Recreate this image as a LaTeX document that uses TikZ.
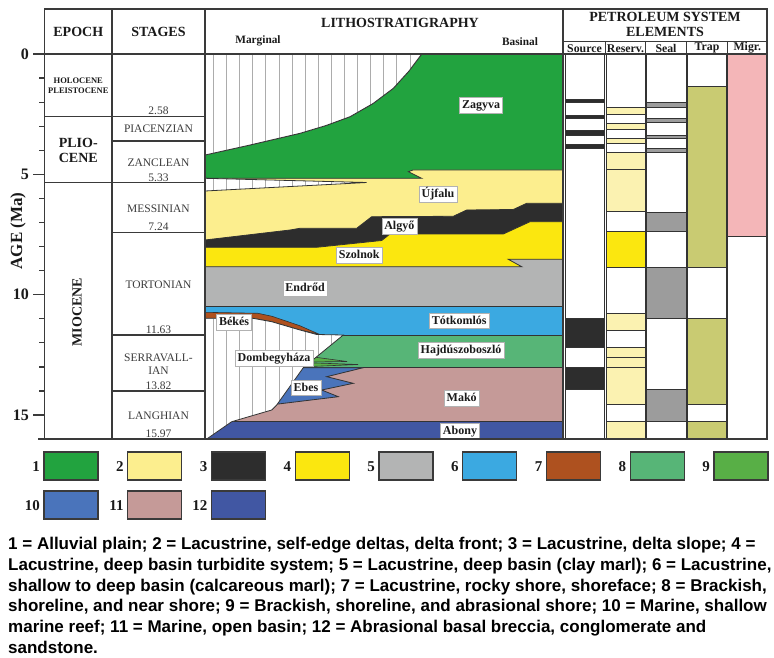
\documentclass[tikz,border=0pt]{standalone}
\usepackage{fontspec}
\setmainfont{Liberation Serif}
\newfontfamily\capfont{Liberation Sans}
\newcommand\fs[2]{\fontsize{#1}{#2}\selectfont}
\definecolor{frm}{HTML}{3A3A3A}
\definecolor{bndc}{HTML}{333333}
\definecolor{txt}{HTML}{1A1A1A}
\definecolor{stgc}{HTML}{3C3C3C}
\definecolor{c1}{HTML}{22A33F}
\definecolor{c2}{HTML}{FCEE8E}
\definecolor{c3}{HTML}{2D2D2D}
\definecolor{c4}{HTML}{FBE70F}
\definecolor{c5}{HTML}{B3B4B4}
\definecolor{c6}{HTML}{3BA9E1}
\definecolor{c7}{HTML}{AE511F}
\definecolor{c8}{HTML}{57B577}
\definecolor{c9}{HTML}{58AF46}
\definecolor{c10}{HTML}{4A74BB}
\definecolor{c11}{HTML}{C59A98}
\definecolor{c12}{HTML}{4157A3}
\definecolor{resP}{HTML}{FBF2B1}
\definecolor{sealG}{HTML}{9C9C9C}
\definecolor{trapO}{HTML}{C9CB72}
\definecolor{migP}{HTML}{F4B6B8}
\newcommand\hatchregion[1]{%
  \begin{scope}
    \clip #1;
    \fill[white] (200,50) rectangle (570,445);
    \foreach \hx in {213.3,226.4,...,560} {\draw[hatchln] (\hx,50) -- (\hx,445);}
  \end{scope}
  \draw[bnd] #1;}
\newcommand\cellcol[3]{%
  \foreach \ya/\yb/\cc in {#3} {\filldraw[cell,fill=\cc] (#1,\ya) rectangle (#2,\yb);}}
\begin{document}
\begin{tikzpicture}[x=1pt,y=-1pt,
  frameln/.style={draw=frm,line width=1.3pt},
  bnd/.style={draw=bndc,line width=0.8pt,line join=miter},
  hatchln/.style={draw=gray!65,line width=0.5pt},
  lbl/.style={draw=gray!60,line width=0.6pt,fill=white,inner xsep=2.5pt,inner ysep=1.8pt,text height=9.5pt,text depth=2.7pt,font=\fs{12}{12}\bfseries,text=txt},
  stg/.style={font=\fs{11.5}{13}},
  stg/.append style={text=stgc,inner sep=0pt,align=center},
  hdr/.style={font=\fs{14}{15}\bfseries,text=txt,inner sep=0pt,align=center},
  sub/.style={font=\fs{11.8}{12}\bfseries,text=txt,inner sep=0pt},
  cell/.style={draw=bndc,line width=0.7pt},
  lgbox/.style={draw=frm,line width=1.2pt},
  lgnum/.style={font=\fs{15}{15}\bfseries,anchor=east,inner sep=0pt,text=txt},
  capln/.style={font=\capfont\bfseries\fs{17}{21},anchor=base west,inner sep=0pt,text=black},
  agel/.style={font=\fs{16}{16}\bfseries,anchor=east,inner sep=0pt,text=txt}
]
\fill[white] (0,0) rectangle (774,658);
\useasboundingbox (0,0) rectangle (774,658);

% ---------- lithostratigraphy layers ----------
\filldraw[fill=c1,bnd] (421.7,54) -- (563,54) -- (563,439) -- (205,439) -- (205,155) -- (250,145) -- (300,133.3) -- (326,125.5) -- (350,116.7) -- (373,103.5) -- (393.3,88.3) -- (409,71) -- cycle;
\filldraw[fill=c2,bnd] (205,178.3) -- (421.7,178.3) -- (408.3,171.7) -- (413,170) -- (563,170) -- (563,439) -- (205,439) -- cycle;
\filldraw[fill=c3,bnd] (205,240) -- (290,230) -- (300,228.3) -- (356.7,228.3) -- (371.7,216.7) -- (453.3,216.3) -- (466.7,210) -- (513.3,209.5) -- (526.7,203.3) -- (563,203.3) -- (563,439) -- (205,439) -- cycle;
\filldraw[fill=c4,bnd] (205,247.3) -- (316.7,247.3) -- (381.7,240.5) -- (390,234) -- (503.3,234) -- (530,221.7) -- (563,221.7) -- (563,439) -- (205,439) -- cycle;
\filldraw[fill=c5,bnd] (205,266.7) -- (521.7,266.7) -- (508.3,259.3) -- (563,259.3) -- (563,439) -- (205,439) -- cycle;
\filldraw[fill=c6,bnd] (205,306.7) -- (563,306.7) -- (563,439) -- (205,439) -- cycle;
\filldraw[fill=c8,bnd] (205,335) -- (563,335) -- (563,439) -- (205,439) -- cycle;
\filldraw[fill=c11,bnd] (205,367.7) -- (563,367.7) -- (563,439) -- (205,439) -- cycle;
\filldraw[fill=c10,bnd] (295,367.7) -- (363.3,367.7) -- (326.7,376.7) -- (353.3,383.3) -- (321.7,390) -- (338.3,396.7) -- (270,405) -- cycle;
\filldraw[fill=c12,bnd] (205,421.7) -- (563,421.7) -- (563,439) -- (205,439) -- cycle;
\filldraw[fill=c9,bnd,line width=0.6pt] (310,356.5) -- (347,361.5) -- (310,362) -- cycle;
\filldraw[fill=c9,bnd,line width=0.6pt] (310,362.8) -- (358,364.5) -- (310,366.5) -- cycle;
\filldraw[fill=c7,bnd,line width=0.6pt] (205,312.3) -- (258,313.3) -- (272,316.3) -- (300,325.8) -- (320,334.6) -- (300,330) -- (271.7,321.7) -- (253,318.3) -- (205,318.3) -- cycle;

% ---------- marginal hatched areas ----------
\hatchregion{(205,54) -- (421.7,54) -- (409,71) -- (393.3,88.3) -- (373,103.5) -- (350,116.7) -- (326,125.5) -- (300,133.3) -- (250,145) -- (205,155) -- cycle}
\hatchregion{(205,178.3) -- (366.7,182.5) -- (205,191) -- cycle}
\hatchregion{(205,318.3) -- (253,318.3) -- (271.7,321.7) -- (300,330) -- (316.7,334.5) -- (343.3,335) -- (303.3,367.7) -- (276.7,405) -- (271.7,410) -- (231.7,421.7) -- (206.7,439) -- (205,439) -- cycle}

% ---------- formation labels ----------
\node[lbl] (zag) at (481,105) {Zagyva};
\node[lbl] (ujf) at (438,194.5) {Újfalu};
\node[lbl] (alg) at (399.3,226) {Algyő};
\node[lbl] (szo) at (359.3,255.5) {Szolnok};
\node[lbl] (end) at (305,288.3) {Endrőd};
\node[lbl] (tot) at (459.3,320.7) {Tótkomlós};
\node[lbl] (bek) at (234,322.5) {Békés};
\node[lbl] (haj) at (461,350) {Hajdúszoboszló};
\node[lbl] (dom) at (274,358.3) {Dombegyháza};
\node[lbl] (ebe) at (306,387.7) {Ebes};
\node[lbl] (mak) at (461.7,398.3) {Makó};
\node[lbl] (abo) at (460,430.7) {Abony};

% ---------- petroleum system columns ----------
\cellcol{565}{604.5}{54.5/99.3/white,99.3/102.7/c3,102.7/115/white,115/118.3/c3,118.3/130/white,130/135/c3,135/144/white,144/148.3/c3,148.3/318.3/white,318.3/347.7/c3,347.7/367.7/white,367.7/389/c3,389/439/white}
\cellcol{606}{645.5}{54.5/107.3/white,107.3/114/resP,114/123.3/white,123.3/129.3/resP,129.3/138.7/white,138.7/143/resP,143/152.7/white,152.7/169.5/resP,169.5/211.7/resP,211.7/231.7/white,231.7/267.7/c4,267.7/313.3/white,313.3/330/resP,330/347.7/white,347.7/357.3/resP,357.3/367.7/resP,367.7/404.3/resP,404.3/421.7/white,421.7/439/resP}
\cellcol{646.5}{686}{54.5/102.7/white,102.7/107/sealG,107/118.3/white,118.3/122.7/sealG,122.7/135/white,135/138.3/sealG,138.3/148.3/white,148.3/152.7/sealG,152.7/212.3/white,212.3/231.7/sealG,231.7/267.7/white,267.7/318.3/sealG,318.3/389/white,389/421.7/sealG,421.7/439/white}
\cellcol{687}{726.5}{54.5/86/white,86/267.7/trapO,267.7/318.3/white,318.3/404.3/trapO,404.3/421.7/white,421.7/439/trapO}
\cellcol{727.5}{767}{54.5/236.7/migP,236.7/439/white}

% ---------- frame ----------
\draw[frameln] (44.5,9) rectangle (767,439);
\draw[frameln] (38,439) -- (767,439);
\draw[frameln] (44.5,54) -- (767,54);
\foreach \vx in {112,205,563} {\draw[frameln] (\vx,9) -- (\vx,439);}
\draw[frameln,line width=1pt] (563,41.5) -- (767,41.5);
\foreach \vx in {605,645.7,686.3,727.3} {\draw[frameln,line width=1pt] (\vx,41.5) -- (\vx,54);}
\draw[frameln] (44.5,116.7) -- (205,116.7);
\draw[frameln] (44.5,182.5) -- (205,182.5);
\foreach \hy in {141,232.3,335,391} {\draw[frameln] (112,\hy) -- (205,\hy);}

% ---------- age axis ----------
\foreach \k in {0,...,15} {\draw[frameln,line width=1.2pt] (39,{54+24.07*\k}) -- (44.5,{54+24.07*\k});}
\foreach \k in {0,5,10,15} {\draw[frameln,line width=1.2pt] (33,{54+24.07*\k}) -- (44.5,{54+24.07*\k});}
\node[agel] (a0) at (29,54) {0};
\node[agel] (a5) at (29,174.4) {5};
\node[agel] (a10) at (29,294.7) {10};
\node[agel] (a15) at (29,415.1) {15};
\node[font=\fs{17}{17}\bfseries,text=txt,rotate=90,inner sep=0pt] (agetitle) at (18,231) {AGE (Ma)};

% ---------- headers ----------
\node[hdr] (ep) at (78.3,32) {EPOCH};
\node[hdr] (st) at (158.5,32) {STAGES};
\node[hdr] (lith) at (400,23) {LITHOSTRATIGRAPHY};
\node[font=\fs{11.3}{12}\bfseries,text=txt,inner sep=0pt] (marg) at (258,41) {Marginal};
\node[font=\fs{11.3}{12}\bfseries,text=txt,inner sep=0pt] (basi) at (520,42) {Basinal};
\node[hdr] (pse) at (665,24.5) {PETROLEUM SYSTEM\\ELEMENTS};
\node[sub] (hsrc) at (584.5,48.5) {Source};
\node[sub] (hres) at (625.5,48.5) {Reserv.};
\node[sub] (hseal) at (666,48.5) {Seal};
\node[sub] (htrap) at (707,47.5) {Trap};
\node[sub] (hmig) at (747.3,47.5) {Migr.};

% ---------- epochs ----------
\node[font=\fs{8.5}{10}\bfseries,text=txt,inner sep=0pt,align=center] (holo) at (78.3,86) {HOLOCENE\\PLEISTOCENE};
\node[hdr] (plio) at (78.3,150.5) {PLIO-\\CENE};
\node[hdr,rotate=90] (mio) at (77,312) {MIOCENE};

% ---------- stages ----------
\node[stg] (s258) at (158.5,111) {2.58};
\node[stg] (spia) at (158.5,129) {PIACENZIAN};
\node[stg] (szan) at (158.5,163) {ZANCLEAN};
\node[stg] (s533) at (158.5,178) {5.33};
\node[stg] (smes) at (158.5,209) {MESSINIAN};
\node[stg] (s724) at (158.5,227) {7.24};
\node[stg] (stor) at (158.5,285) {TORTONIAN};
\node[stg] (s1163) at (158.5,329.5) {11.63};
\node[stg] (sser) at (158.5,364) {SERRAVALL-\\IAN};
\node[stg] (s1382) at (158.5,386) {13.82};
\node[stg] (slan) at (158.5,415.7) {LANGHIAN};
\node[stg] (s1597) at (158.5,433.5) {15.97};

% ---------- legend ----------
\foreach \i/\cc in {1/c1,2/c2,3/c3,4/c4,5/c5,6/c6,7/c7,8/c8,9/c9} {
  \filldraw[lgbox,fill=\cc] ({44+83.75*(\i-1)},452) rectangle ({98+83.75*(\i-1)},480);
  \node[lgnum] (n\i) at ({40+83.75*(\i-1)},466.5) {\i};
}
\foreach \i/\cc in {10/c10,11/c11,12/c12} {
  \filldraw[lgbox,fill=\cc] ({44+83.75*(\i-10)},491) rectangle ({98+83.75*(\i-10)},519);
  \node[lgnum] (n\i) at ({40+83.75*(\i-10)},505.5) {\i};
}

% ---------- caption ----------
\node[capln] (cap1) at (8,549.5) {1 = Alluvial plain; 2 = Lacustrine, self-edge deltas, delta front; 3 = Lacustrine, delta slope; 4 =};
\node[capln] (cap2) at (8,570.3) {Lacustrine, deep basin turbidite system; 5 = Lacustrine, deep basin (clay marl); 6 = Lacustrine,};
\node[capln] (cap3) at (8,591.1) {shallow to deep basin (calcareous marl); 7 = Lacustrine, rocky shore, shoreface; 8 = Brackish,};
\node[capln] (cap4) at (8,611.9) {shoreline, and near shore; 9 = Brackish, shoreline, and abrasional shore; 10 = Marine, shallow};
\node[capln] (cap5) at (8,632.7) {marine reef; 11 = Marine, open basin; 12 = Abrasional basal breccia, conglomerate and};
\node[capln] (cap6) at (8,653.5) {sandstone.};
\end{tikzpicture}
\end{document}
